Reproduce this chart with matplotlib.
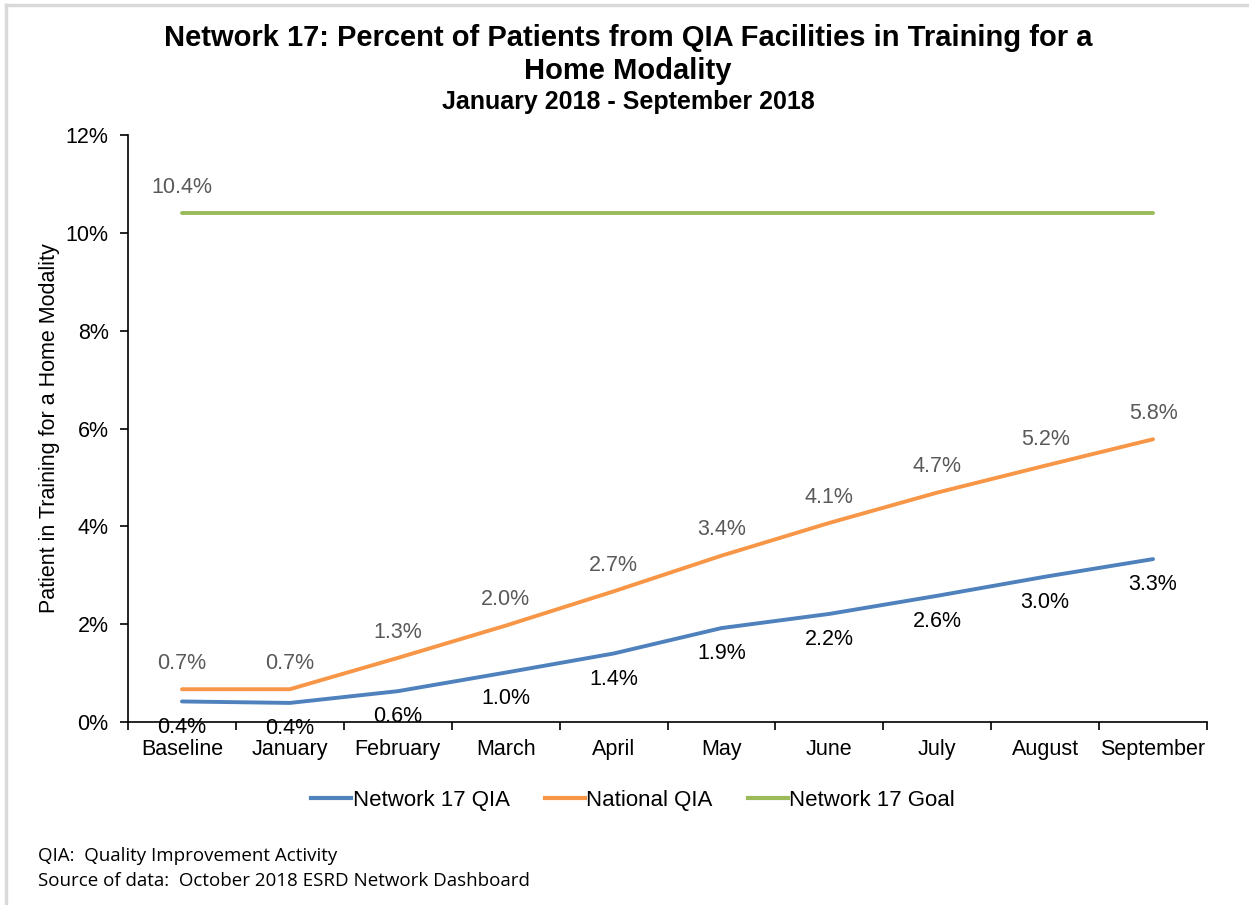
import matplotlib
matplotlib.use("Agg")
import matplotlib.pyplot as plt
from matplotlib.lines import Line2D

# Chart data (percent)
months = ["Baseline", "January", "February", "March", "April",
          "May", "June", "July", "August", "September"]
network_qia = [0.42, 0.39, 0.63, 1.01, 1.40, 1.92, 2.21, 2.58, 2.97, 3.33]
national_qia = [0.67, 0.67, 1.31, 1.97, 2.67, 3.40, 4.07, 4.69, 5.24, 5.78]
network_goal = [10.4] * len(months)

blue = "#4f81bd"
orange = "#f79646"
green = "#9bbb59"

plt.rcParams["font.family"] = ["Liberation Sans", "DejaVu Sans"]

fig = plt.figure(figsize=(12.49, 9.05), dpi=100)
ax = fig.add_axes([128 / 1249, 1 - 722 / 905, (1207 - 128) / 1249, (722 - 135) / 905])

x = list(range(len(months)))
ax.plot(x, network_goal, color=green, lw=2.8, solid_capstyle="round")
ax.plot(x, national_qia, color=orange, lw=2.8, solid_capstyle="round")
ax.plot(x, network_qia, color=blue, lw=2.8, solid_capstyle="round")

for i, v in enumerate(national_qia):
    ax.annotate(f"{v:.1f}%", (i, v), xytext=(0, 11), textcoords="offset points",
                ha="center", va="bottom", fontsize=15.5, color="#595959")
for i, v in enumerate(network_qia):
    ax.annotate(f"{v:.1f}%", (i, v), xytext=(0, -11), textcoords="offset points",
                ha="center", va="top", fontsize=15.5, color="black")
ax.annotate(f"{network_goal[0]:.1f}%", (0, network_goal[0]), xytext=(0, 11),
            textcoords="offset points", ha="center", va="bottom",
            fontsize=15.5, color="#595959")

ax.set_xlim(-0.5, len(months) - 0.5)
ax.set_ylim(0, 12)
ax.set_yticks(range(0, 13, 2))
ax.set_yticklabels([f"{t}%" for t in range(0, 13, 2)], fontsize=15.5)
ax.set_xticks(x)
ax.set_xticklabels(months, fontsize=15.5)
ax.tick_params(axis="x", length=0, pad=12)
ax.set_xticks([i - 0.5 for i in range(len(months) + 1)], minor=True)
ax.tick_params(axis="x", which="minor", length=6, width=1.2, direction="out")
ax.tick_params(axis="y", length=6, width=1.2, direction="out", pad=8)
ax.spines["top"].set_visible(False)
ax.spines["right"].set_visible(False)
for s in ("left", "bottom"):
    ax.spines[s].set_linewidth(1.2)
ax.set_ylabel("Patient in Training for a Home Modality", fontsize=15.5, labelpad=4)

fig.text(0.503, 1 - 38 / 905, "Network 17: Percent of Patients from QIA Facilities in Training for a",
         ha="center", va="center", fontsize=21, fontweight="bold")
fig.text(0.503, 1 - 71 / 905, "Home Modality",
         ha="center", va="center", fontsize=21, fontweight="bold")
fig.text(0.503, 1 - 102 / 905, "January 2018 - September 2018",
         ha="center", va="center", fontsize=18, fontweight="bold")

handles = [Line2D([], [], color=blue, lw=3),
           Line2D([], [], color=orange, lw=3),
           Line2D([], [], color=green, lw=3)]
fig.legend(handles, ["Network 17 QIA", "National QIA", "Network 17 Goal"],
           loc="center", bbox_to_anchor=(0.507, 1 - 800 / 905), ncol=3,
           frameon=False, fontsize=16, handlelength=1.8, handletextpad=0.05,
           columnspacing=1.6)

fig.text(38 / 1249, 1 - 856 / 905, "QIA:  Quality Improvement Activity",
         ha="left", va="center", fontsize=13.5, family=["Open Sans", "DejaVu Sans"])
fig.text(38 / 1249, 1 - 881 / 905, "Source of data:  October 2018 ESRD Network Dashboard",
         ha="left", va="center", fontsize=13.5, family=["Open Sans", "DejaVu Sans"])

# light frame around the chart area
fig.add_artist(Line2D([6 / 1249, 1], [1 - 5 / 905, 1 - 5 / 905], color="#d9d9d9", lw=2.5))
fig.add_artist(Line2D([6 / 1249, 6 / 1249], [0, 1 - 5 / 905], color="#d9d9d9", lw=2.5))

fig.savefig("out.png", dpi=100)
